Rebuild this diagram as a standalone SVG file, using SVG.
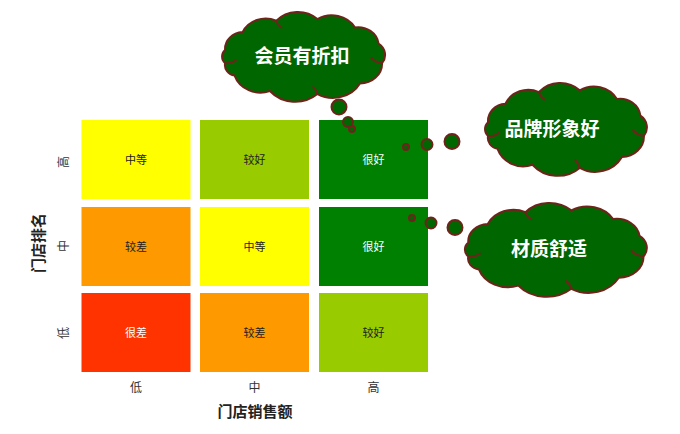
<svg xmlns="http://www.w3.org/2000/svg" xmlns:xlink="http://www.w3.org/1999/xlink" width="680" height="434" viewBox="0 0 680 434">
<style>
.cell-t{font-family:"Noto Sans CJK SC","Noto Sans",sans-serif;font-size:11px;text-anchor:middle;fill:#222}
.cell-w{fill:#fff}
.ax{font-family:"Noto Sans CJK SC","Noto Sans",sans-serif;font-size:12px;text-anchor:middle;fill:#333}
.title{font-family:"Noto Sans CJK SC","Noto Sans",sans-serif;font-size:15px;font-weight:bold;text-anchor:middle;fill:#222}
.cloud{fill:#006600;stroke:#6e241a;stroke-width:2}
.inner{fill:none;stroke:#6e241a;stroke-width:2}
.ct{font-family:"Noto Sans CJK SC","Noto Sans",sans-serif;font-size:19px;font-weight:bold;text-anchor:middle;fill:#fff}
.bub{fill:#006600;stroke:#6e241a;stroke-width:2}
</style>
<defs>
<path id="cloudShape" d="M11.4,46.8 A20.7,20.7 0 0 1 31.1,24.8 A28.4,28.4 0 0 1 69.2,10.8 A32.5,32.5 0 0 1 115.6,8.7 A30.5,30.5 0 0 1 157.9,19 A23.3,23.3 0 0 1 184.6,38.9 A17.2,17.2 0 0 1 188.6,63.2 A24.8,24.8 0 0 1 163.6,88.2 A34.9,34.9 0 0 1 115.6,101.3 A37.7,37.7 0 0 1 61.9,97.6 A30.9,30.9 0 0 1 22.1,78.5 A13.1,13.1 0 0 1 11.4,63.2 A11.5,11.5 0 0 1 11.4,46.8 Z" vector-effect="non-scaling-stroke"/>
<path id="cloudInner" d="M11.4,63.2 Q19,64 24,59 M188.6,63.2 Q180,62 176,56 M115.6,101.3 Q114,95 110,92 M69.2,10.8 Q71,17 76,20" vector-effect="non-scaling-stroke"/>
</defs>
<rect width="680" height="434" fill="#fff"/>

<g id="grid">
<g id="c11"><rect x="81.5" y="120" width="109" height="79" fill="#FFFF00"/><text class="cell-t" x="136" y="164">中等</text></g>
<g id="c12"><rect x="200" y="120" width="109" height="79" fill="#99CC00"/><text class="cell-t" x="254.5" y="164">较好</text></g>
<g id="c13"><rect x="319" y="120" width="109" height="79" fill="#008000"/><text class="cell-t cell-w" x="373.5" y="164">很好</text></g>
<g id="c21"><rect x="81.5" y="207" width="109" height="79" fill="#FF9900"/><text class="cell-t" x="136" y="251">较差</text></g>
<g id="c22"><rect x="200" y="207" width="109" height="79" fill="#FFFF00"/><text class="cell-t" x="254.5" y="251">中等</text></g>
<g id="c23"><rect x="319" y="207" width="109" height="79" fill="#008000"/><text class="cell-t cell-w" x="373.5" y="251">很好</text></g>
<g id="c31"><rect x="81.5" y="293" width="109" height="79" fill="#FF3300"/><text class="cell-t cell-w" x="136" y="337">很差</text></g>
<g id="c32"><rect x="200" y="293" width="109" height="79" fill="#FF9900"/><text class="cell-t" x="254.5" y="337">较差</text></g>
<g id="c33"><rect x="319" y="293" width="109" height="79" fill="#99CC00"/><text class="cell-t" x="373.5" y="337">较好</text></g>
</g>

<g id="axes">
<text class="ax" x="136" y="391.5">低</text>
<text class="ax" x="254.5" y="391.5">中</text>
<text class="ax" x="373.5" y="391.5">高</text>
<text class="title" x="255" y="416.5">门店销售额</text>
<text class="ax" transform="translate(63,162) rotate(-90)" y="4.5">高</text>
<text class="ax" transform="translate(63,246) rotate(-90)" y="4.5">中</text>
<text class="ax" transform="translate(63,333) rotate(-90)" y="4.5">低</text>
<text class="title" transform="translate(38,243) rotate(-90)" y="5.5">门店排名</text>
</g>

<g id="connectors">
<circle class="bub" cx="339" cy="107" r="7.5"/>
<circle class="bub" cx="348" cy="122" r="5"/>
<circle class="bub" cx="352" cy="129" r="3"/>
<circle class="bub" cx="452" cy="141.5" r="7.5"/>
<circle class="bub" cx="427" cy="144.5" r="5.5"/>
<circle class="bub" cx="406" cy="147" r="3"/>
<circle class="bub" cx="455" cy="227.5" r="7.5"/>
<circle class="bub" cx="431" cy="223" r="5.5"/>
<circle class="bub" cx="412" cy="218" r="3"/>
</g>

<g id="cloud1">
<g transform="translate(215,12) scale(0.886,0.81)"><use xlink:href="#cloudShape" class="cloud"/><use xlink:href="#cloudInner" class="inner"/></g>
<text class="ct" x="302" y="63">会员有折扣</text>
</g>
<g id="cloud2">
<g transform="translate(478,83) scale(0.88,0.838)"><use xlink:href="#cloudShape" class="cloud"/><use xlink:href="#cloudInner" class="inner"/></g>
<text class="ct" x="552" y="136">品牌形象好</text>
</g>
<g id="cloud3">
<g transform="translate(457,203) scale(0.989,0.847)"><use xlink:href="#cloudShape" class="cloud"/><use xlink:href="#cloudInner" class="inner"/></g>
<text class="ct" x="549" y="256">材质舒适</text>
</g>
</svg>
